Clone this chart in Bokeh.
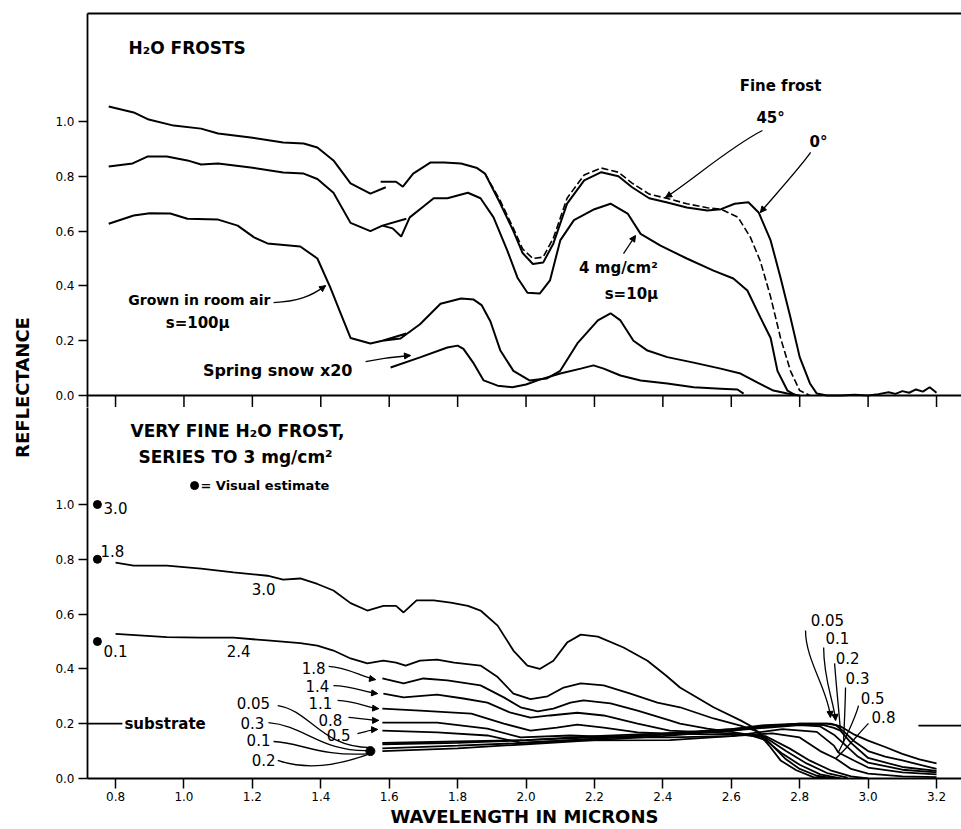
import math
from bokeh.plotting import figure
from bokeh.models import (Range1d, LinearAxis, FixedTicker, PrintfTickFormatter,
                          Arrow, NormalHead, Span)
from bokeh.layouts import row, column
from bokeh.embed import file_html
from bokeh.resources import INLINE
from bokeh.core.properties import value

NaN = float("nan")
FONT = "DejaVu Sans"

# ---------------- axes ----------------
X_TICKS = [0.8, 1.0, 1.2, 1.4, 1.6, 1.8, 2.0, 2.2, 2.4, 2.6, 2.8, 3.0, 3.2]
Y_TICKS = [0.0, 0.2, 0.4, 0.6, 0.8, 1.0]
X_MIN, X_MAX = 0.718, 3.273

# ---------------- top panel: H2O frosts ----------------
fine0_x = [0.78, 0.853, 0.897, 0.97, 1.05, 1.10, 1.195, 1.29, 1.35, 1.39, 1.437, 1.487, 1.545, 1.59, NaN,
           1.575, 1.62, 1.64, 1.67, 1.72, 1.76, 1.81, 1.857, 1.88, 1.925, 1.963, 1.99, 2.02, 2.05, 2.08,
           2.12, 2.17, 2.22, 2.27, 2.31, 2.36, 2.41, 2.47, 2.53, 2.57, 2.61, 2.65, 2.68, 2.715, 2.744,
           2.773, 2.80, 2.83, 2.85, 2.88, 2.92, 2.96, 3.00, 3.03, 3.06, 3.08, 3.10, 3.12, 3.14, 3.16,
           3.18, 3.20]
fine0_y = [1.055, 1.033, 1.007, 0.985, 0.974, 0.956, 0.942, 0.923, 0.92, 0.905, 0.858, 0.774, 0.737, 0.76, NaN,
           0.78, 0.78, 0.762, 0.81, 0.85, 0.85, 0.847, 0.83, 0.81, 0.70, 0.60, 0.52, 0.48, 0.485, 0.555,
           0.70, 0.785, 0.815, 0.80, 0.76, 0.72, 0.705, 0.686, 0.675, 0.68, 0.70, 0.705, 0.668, 0.566, 0.43,
           0.285, 0.14, 0.044, 0.007, 0.0, 0.0, 0.003, 0.0, 0.005, 0.012, 0.006, 0.016, 0.01, 0.022, 0.014,
           0.03, 0.01]

fine45_x = [1.88, 1.925, 1.963, 1.99, 2.02, 2.05, 2.08, 2.12, 2.17, 2.22, 2.27, 2.31, 2.36, 2.41, 2.47,
            2.53, 2.57, 2.62, 2.656, 2.685, 2.715, 2.744, 2.773, 2.80, 2.83]
fine45_y = [0.81, 0.71, 0.61, 0.535, 0.50, 0.505, 0.575, 0.72, 0.805, 0.83, 0.815, 0.775, 0.735, 0.72, 0.70,
            0.685, 0.68, 0.65, 0.577, 0.49, 0.36, 0.21, 0.09, 0.018, 0.0]

frost4mg_x = [0.78, 0.85, 0.893, 0.95, 1.01, 1.05, 1.10, 1.195, 1.29, 1.35, 1.39, 1.437, 1.487, 1.545, 1.58,
              1.65, NaN, 1.58, 1.61, 1.635, 1.66, 1.70, 1.73, 1.77, 1.83, 1.867, 1.905, 1.945, 1.975, 2.004,
              2.04, 2.07, 2.10, 2.14, 2.20, 2.247, 2.297, 2.335, 2.393, 2.47, 2.548, 2.606, 2.647, 2.685,
              2.715, 2.735, 2.764, 2.79]
frost4mg_y = [0.836, 0.847, 0.872, 0.872, 0.858, 0.843, 0.847, 0.832, 0.814, 0.81, 0.79, 0.74, 0.63, 0.60, 0.62,
              0.645, NaN, 0.62, 0.61, 0.58, 0.65, 0.69, 0.72, 0.72, 0.74, 0.72, 0.65, 0.53, 0.43, 0.375,
              0.372, 0.42, 0.566, 0.64, 0.68, 0.70, 0.664, 0.59, 0.547, 0.50, 0.456, 0.427, 0.383, 0.285,
              0.21, 0.09, 0.018, 0.0]

room_x = [0.78, 0.853, 0.90, 0.96, 1.01, 1.10, 1.157, 1.205, 1.244, 1.34, 1.39, 1.428, 1.458, 1.487, 1.545,
          1.58, 1.65, NaN, 1.58, 1.633, 1.69, 1.75, 1.81, 1.847, 1.87, 1.896, 1.925, 1.963, 2.01, 2.06,
          2.10, 2.15, 2.21, 2.247, 2.276, 2.314, 2.355, 2.413, 2.49, 2.569, 2.627, 2.677, 2.723, 2.764, 2.80]
room_y = [0.627, 0.657, 0.665, 0.664, 0.645, 0.642, 0.62, 0.577, 0.555, 0.544, 0.50, 0.394, 0.30, 0.21, 0.19,
          0.20, 0.226, NaN, 0.20, 0.208, 0.26, 0.335, 0.354, 0.35, 0.33, 0.27, 0.164, 0.09, 0.055, 0.062,
          0.09, 0.19, 0.274, 0.30, 0.274, 0.20, 0.164, 0.14, 0.12, 0.098, 0.08, 0.047, 0.018, 0.007, 0.0]

snow_x = [1.604, 1.69, 1.77, 1.80, 1.817, 1.847, 1.876, 1.917, 1.96, 2.00, 2.04, 2.10, 2.16, 2.197, 2.227,
          2.276, 2.335, 2.413, 2.49, 2.569, 2.618, 2.636]
snow_y = [0.102, 0.139, 0.175, 0.182, 0.17, 0.117, 0.055, 0.036, 0.03, 0.04, 0.058, 0.08, 0.098, 0.11, 0.098,
          0.073, 0.055, 0.044, 0.03, 0.025, 0.022, 0.007]

# ---------------- bottom panel: very fine frost series ----------------
s30_x = [0.80, 0.853, 0.95, 1.05, 1.145, 1.244, 1.29, 1.34, 1.39, 1.437, 1.487, 1.536, 1.583, 1.62, 1.642,
         1.68, 1.73, 1.78, 1.83, 1.867, 1.917, 1.963, 2.004, 2.04, 2.08, 2.12, 2.16, 2.21, 2.285, 2.355,
         2.41, 2.45, 2.548, 2.627, 2.665, 2.715, 2.744, 2.79, 2.84, 2.90]
s30_y = [0.788, 0.777, 0.777, 0.766, 0.752, 0.74, 0.726, 0.73, 0.71, 0.686, 0.64, 0.613, 0.63, 0.63, 0.606,
         0.65, 0.65, 0.642, 0.63, 0.613, 0.558, 0.467, 0.412, 0.40, 0.43, 0.496, 0.525, 0.518, 0.478, 0.43,
         0.375, 0.332, 0.26, 0.212, 0.186, 0.113, 0.066, 0.03, 0.005, 0.0]

s24_x = [0.80, 0.95, 1.05, 1.145, 1.244, 1.34, 1.39, 1.437, 1.487, 1.536, 1.583, 1.62, 1.648, 1.69, 1.74,
         1.79, 1.867, 1.917, 1.963, 2.013, 2.063, 2.11, 2.16, 2.227, 2.305, 2.384, 2.45, 2.548, 2.627, 2.68,
         2.72, 2.76, 2.80, 2.85, 2.90]
s24_y = [0.528, 0.516, 0.514, 0.514, 0.504, 0.494, 0.485, 0.467, 0.438, 0.42, 0.43, 0.423, 0.412, 0.43, 0.434,
         0.423, 0.412, 0.37, 0.31, 0.29, 0.30, 0.332, 0.347, 0.34, 0.31, 0.277, 0.26, 0.219, 0.193, 0.17,
         0.12, 0.07, 0.035, 0.01, 0.0]

s18_x = [1.58, 1.642, 1.70, 1.77, 1.867, 1.935, 1.984, 2.034, 2.08, 2.13, 2.168, 2.247, 2.326, 2.42, 2.45,
         2.53, 2.60, 2.65, 2.70, 2.75, 2.80, 2.86, 2.92]
s18_y = [0.365, 0.347, 0.365, 0.358, 0.34, 0.296, 0.26, 0.245, 0.255, 0.277, 0.285, 0.274, 0.248, 0.212, 0.20,
         0.182, 0.17, 0.16, 0.14, 0.09, 0.05, 0.015, 0.0]

s14_x = [1.583, 1.642, 1.74, 1.817, 1.887, 1.955, 2.013, 2.07, 2.15, 2.227, 2.326, 2.42, 2.50, 2.60, 2.70,
         2.76, 2.82, 2.88, 2.94]
s14_y = [0.31, 0.296, 0.306, 0.292, 0.277, 0.24, 0.222, 0.23, 0.24, 0.23, 0.20, 0.175, 0.17, 0.165, 0.15,
         0.10, 0.055, 0.02, 0.003]

s11_x = [1.58, 1.69, 1.84, 1.935, 2.013, 2.09, 2.15, 2.227, 2.326, 2.42, 2.50, 2.60, 2.70, 2.77, 2.83,
         2.89, 2.95, 3.00]
s11_y = [0.255, 0.248, 0.237, 0.20, 0.175, 0.186, 0.197, 0.186, 0.168, 0.164, 0.162, 0.16, 0.155, 0.11, 0.065,
         0.03, 0.008, 0.0]

s08_x = [1.58, 1.74, 1.887, 1.984, 2.13, 2.276, 2.42, 2.60, 2.72, 2.80, 2.86, 2.905, 2.95, 3.00, 3.10, 3.20]
s08_y = [0.204, 0.204, 0.182, 0.15, 0.157, 0.15, 0.15, 0.155, 0.165, 0.15, 0.10, 0.073, 0.035, 0.018, 0.008,
         0.005]

s05_x = [1.58, 1.74, 1.887, 1.984, 2.13, 2.42, 2.60, 2.75, 2.85, 2.90, 2.913, 2.96, 3.00, 3.10, 3.20]
s05_y = [0.175, 0.168, 0.157, 0.131, 0.139, 0.14, 0.155, 0.18, 0.17, 0.12, 0.095, 0.065, 0.04, 0.022, 0.015]

s03_x = [1.58, 1.80, 2.00, 2.20, 2.40, 2.60, 2.70, 2.80, 2.86, 2.90, 2.928, 2.97, 3.00, 3.10, 3.20]
s03_y = [0.13, 0.135, 0.14, 0.15, 0.16, 0.175, 0.185, 0.195, 0.19, 0.16, 0.128, 0.08, 0.058, 0.032, 0.022]

s02_x = [1.58, 1.80, 2.00, 2.20, 2.40, 2.60, 2.70, 2.80, 2.87, 2.90, 2.919, 2.95, 3.00, 3.10, 3.20]
s02_y = [0.10, 0.11, 0.125, 0.14, 0.155, 0.175, 0.19, 0.198, 0.195, 0.185, 0.175, 0.13, 0.075, 0.042, 0.028]

s01_x = [1.58, 1.80, 2.00, 2.20, 2.40, 2.60, 2.70, 2.80, 2.88, 2.905, 2.93, 2.96, 3.00, 3.05, 3.10, 3.20]
s01_y = [0.11, 0.12, 0.13, 0.145, 0.16, 0.18, 0.19, 0.20, 0.20, 0.195, 0.17, 0.135, 0.10, 0.08, 0.066, 0.035]

s005_x = [1.58, 1.80, 2.00, 2.20, 2.40, 2.60, 2.70, 2.80, 2.89, 2.92, 2.96, 3.00, 3.05, 3.10, 3.15, 3.20]
s005_y = [0.125, 0.13, 0.14, 0.155, 0.165, 0.18, 0.195, 0.20, 0.20, 0.19, 0.16, 0.138, 0.115, 0.09, 0.07, 0.055]

bottom_series = [(s30_x, s30_y), (s24_x, s24_y), (s18_x, s18_y), (s14_x, s14_y), (s11_x, s11_y),
                 (s08_x, s08_y), (s05_x, s05_y), (s03_x, s03_y), (s02_x, s02_y), (s01_x, s01_y),
                 (s005_x, s005_y)]

# visual estimates (thickness label, reflectance)
visual_x = [0.747, 0.747, 0.747]
visual_y = [1.0, 0.8, 0.5]
visual_labels = ["3.0", "1.8", "0.1"]
visual_label_x = [0.765, 0.756, 0.765]
visual_label_y = [0.989, 0.83, 0.467]

# substrate level marks
substrate_left_x = [0.718, 0.82]
substrate_left_y = [0.20, 0.20]
substrate_right_x = [3.147, 3.273]
substrate_right_y = [0.193, 0.193]

# ---------------- layout sizes (pixels) ----------------
LABEL_W = 48
PANEL_W = 913
BORDER_LEFT = 39
PX_PER_Y = 274.0
PX_PER_X = (PANEL_W - BORDER_LEFT) / (X_MAX - X_MIN)
MID_TICK_PX = 12           # wavelength ticks hanging below the shared border
TOP_BORDER = 13
TOP_FRAME_H = 394          # 382 px of panel + the 12 px tick strip below it
BOT_FRAME_H = 371
BOT_BORDER = 51
TOP_H = TOP_BORDER + TOP_FRAME_H
BOT_H = BOT_FRAME_H + BOT_BORDER
TOTAL_H = TOP_H + BOT_H
Y_MIN_TOP = -MID_TICK_PX / PX_PER_Y
Y_MAX_TOP = (TOP_FRAME_H - MID_TICK_PX) / PX_PER_Y
Y_MAX_BOT = BOT_FRAME_H / PX_PER_Y


def style_left_axis(p, ticks):
    ax = p.yaxis[0]
    ax.ticker = FixedTicker(ticks=ticks)
    ax.formatter = PrintfTickFormatter(format="%.1f")
    ax.major_tick_out = 9
    ax.major_tick_in = 0
    ax.minor_tick_line_color = None
    ax.major_tick_line_width = 1.5
    ax.axis_line_width = 1.8
    ax.major_label_standoff = 4
    ax.major_label_text_font = FONT
    ax.major_label_text_font_size = "12px"
    ax.major_label_text_color = "black"


def make_panel(height, ymin, ymax, border_top, border_bottom, xloc):
    p = figure(width=PANEL_W, height=height, x_range=Range1d(X_MIN, X_MAX), y_range=Range1d(ymin, ymax),
               output_backend="svg", toolbar_location=None, x_axis_location=xloc,
               y_axis_location="left", min_border_left=BORDER_LEFT, min_border_right=0,
               min_border_top=border_top, min_border_bottom=border_bottom)
    p.outline_line_color = None
    p.grid.visible = False
    p.background_fill_color = "white"
    style_left_axis(p, Y_TICKS)
    return p


def txt(p, xs, ys, texts, size="15px", style="normal", align="center", angle=0.0):
    p.text(x=xs, y=ys, text=texts, text_font=value(FONT), text_font_size=size,
           text_font_style=style, text_align=align, text_baseline="middle",
           text_color="black", angle=angle)


def head_arrow(p, xs, ys, xe, ye, size=7, show_line=True):
    p.add_layout(Arrow(end=NormalHead(size=size, fill_color="black", line_color="black", line_width=1),
                       x_start=xs, y_start=ys, x_end=xe, y_end=ye, line_width=1.3,
                       line_color="black", line_alpha=1.0 if show_line else 0.0))


def curved_leader(p, x0, y0, cx0, cy0, cx1, cy1, x1, y1, head=True):
    p.bezier(x0=[x0], y0=[y0], x1=[x1], y1=[y1], cx0=[cx0], cy0=[cy0], cx1=[cx1], cy1=[cy1],
             line_color="black", line_width=1.3)
    if head:
        head_arrow(p, cx1, cy1, x1, y1, size=6, show_line=False)


# ================= TOP PANEL =================
top = make_panel(TOP_H, Y_MIN_TOP, Y_MAX_TOP, TOP_BORDER, 0, None)
top.add_layout(LinearAxis(ticker=FixedTicker(ticks=[]), major_tick_in=0, major_tick_out=0,
                          minor_tick_line_color=None, axis_line_width=1.8, major_label_standoff=0), "above")
# shared border between the two panels (reflectance 0 of the upper panel)
top.add_layout(Span(location=0.0, dimension="width", line_color="black", line_width=1.8))
n_t = len(X_TICKS)
top.segment(x0=X_TICKS, y0=[0.0] * n_t, x1=X_TICKS, y1=[Y_MIN_TOP] * n_t,
            line_color="black", line_width=1.5)

LW = 2.0
top.line(fine0_x, fine0_y, line_color="black", line_width=LW)
top.line(fine45_x, fine45_y, line_color="black", line_width=1.6, line_dash="7 3")
top.line(frost4mg_x, frost4mg_y, line_color="black", line_width=LW)
top.line(room_x, room_y, line_color="black", line_width=LW)
top.line(snow_x, snow_y, line_color="black", line_width=LW)

txt(top, [0.838], [1.270], ["H₂O FROSTS"], size="17px", style="bold", align="left")
txt(top, [2.744, 2.715, 2.855], [1.131, 1.011, 0.927], ["Fine frost", "45°", "0°"], size="15px", style="bold")
txt(top, [2.270, 2.308], [0.467, 0.372], ["4 mg/cm²", "s=10μ"], size="15px", style="bold")
txt(top, [1.253], [0.347], ["Grown in room air"], size="14px", style="bold", align="right")
txt(top, [1.040], [0.263], ["s=100μ"], size="15px", style="bold")
txt(top, [1.274], [0.091], ["Spring snow x20"], size="16px", style="bold")

curved_leader(top, 2.691, 0.967, 2.60, 0.91, 2.48, 0.78, 2.408, 0.723)
curved_leader(top, 2.832, 0.887, 2.80, 0.83, 2.72, 0.72, 2.685, 0.668)
head_arrow(top, 2.285, 0.518, 2.320, 0.584, size=6)
curved_leader(top, 1.262, 0.339, 1.33, 0.343, 1.37, 0.36, 1.414, 0.401)
curved_leader(top, 1.531, 0.124, 1.58, 0.136, 1.62, 0.142, 1.662, 0.146)

# ================= BOTTOM PANEL =================
bot = make_panel(BOT_H, 0.0, Y_MAX_BOT, 0, BOT_BORDER, "below")
bx = bot.xaxis[0]
bx.ticker = FixedTicker(ticks=X_TICKS)
bx.formatter = PrintfTickFormatter(format="%.1f")
bx.major_tick_out = 10
bx.major_tick_in = 0
bx.minor_tick_line_color = None
bx.major_tick_line_width = 1.5
bx.axis_line_width = 1.8
bx.major_label_standoff = 3
bx.major_label_text_font = FONT
bx.major_label_text_font_size = "12px"
bx.major_label_text_color = "black"
bx.axis_label = "WAVELENGTH IN MICRONS"
bx.axis_label_text_font = FONT
bx.axis_label_text_font_size = "18px"
bx.axis_label_text_font_style = "bold"
bx.axis_label_text_color = "black"
bx.axis_label_standoff = 2

for sx, sy in bottom_series:
    bot.line(sx, sy, line_color="black", line_width=1.8)

bot.line(substrate_left_x, substrate_left_y, line_color="black", line_width=1.8)
bot.line(substrate_right_x, substrate_right_y, line_color="black", line_width=1.8)
txt(bot, [0.826], [0.20], ["substrate"], size="15px", style="bold", align="left")

bot.scatter(visual_x, visual_y, size=8, marker="circle", fill_color="black", line_color="black")
txt(bot, visual_label_x, visual_label_y, visual_labels, size="15px", align="left")

txt(bot, [0.844, 0.867], [1.270, 1.172], ["VERY FINE H₂O FROST,", "SERIES TO 3 mg/cm²"],
    size="17px", style="bold", align="left")
bot.scatter([1.031], [1.069], size=8, marker="circle", fill_color="black", line_color="black")
txt(bot, [1.048], [1.069], ["= Visual estimate"], size="13px", style="bold", align="left")

txt(bot, [1.233, 1.160], [0.690, 0.467], ["3.0", "2.4"], size="15px")

# left-hand leaders (thickness labels -> curves at 1.55 um)
left_labels = ["1.8", "1.4", "1.1", "0.8", "0.5"]
left_label_x = [1.379, 1.390, 1.399, 1.428, 1.452]
left_label_y = [0.405, 0.339, 0.277, 0.212, 0.157]
txt(bot, left_label_x, left_label_y, left_labels, size="15px")
left_leaders = [
    (1.423, 0.409, 1.48, 0.405, 1.52, 0.37, 1.560, 0.361),
    (1.437, 0.339, 1.49, 0.338, 1.53, 0.315, 1.566, 0.310),
    (1.449, 0.285, 1.50, 0.283, 1.54, 0.258, 1.569, 0.255),
    (1.481, 0.223, 1.52, 0.220, 1.545, 0.212, 1.569, 0.212),
    (1.507, 0.164, 1.53, 0.170, 1.545, 0.178, 1.566, 0.179),
]
for lx in left_leaders:
    curved_leader(bot, *lx)

thin_labels = ["0.05", "0.3", "0.1", "0.2"]
thin_label_x = [1.203, 1.200, 1.218, 1.233]
thin_label_y = [0.274, 0.204, 0.139, 0.069]
txt(bot, thin_label_x, thin_label_y, thin_labels, size="15px")
thin_leaders = [
    (1.274, 0.266, 1.37, 0.248, 1.40, 0.113, 1.545, 0.113),
    (1.247, 0.204, 1.355, 0.193, 1.40, 0.095, 1.545, 0.102),
    (1.262, 0.135, 1.341, 0.131, 1.40, 0.077, 1.545, 0.091),
    (1.274, 0.066, 1.36, 0.03, 1.443, 0.045, 1.545, 0.091),
]
for lx in thin_leaders:
    curved_leader(bot, *lx, head=False)
bot.scatter([1.545], [0.10], size=9, marker="circle", fill_color="black", line_color="black")

# right-hand leaders near the 3 um edge
right_labels = ["0.05", "0.1", "0.2", "0.3", "0.5", "0.8"]
right_label_x = [2.881, 2.910, 2.940, 2.969, 3.013, 3.045]
right_label_y = [0.577, 0.511, 0.438, 0.365, 0.292, 0.223]
txt(bot, right_label_x, right_label_y, right_labels, size="15px")
right_leaders = [
    (2.817, 0.540, 2.817, 0.431, 2.884, 0.321, 2.890, 0.223),
    (2.870, 0.478, 2.870, 0.358, 2.899, 0.285, 2.905, 0.212),
    (2.902, 0.420, 2.908, 0.321, 2.916, 0.230, 2.919, 0.175),
    (2.934, 0.332, 2.933, 0.26, 2.930, 0.19, 2.928, 0.128),
    (2.972, 0.266, 2.96, 0.21, 2.93, 0.14, 2.913, 0.095),
    (3.001, 0.201, 2.97, 0.16, 2.93, 0.10, 2.905, 0.073),
]
for i, lx in enumerate(right_leaders):
    curved_leader(bot, *lx, head=(i < 2))

# ================= Y LABEL =================
lab = figure(width=LABEL_W, height=TOTAL_H, x_range=Range1d(0, LABEL_W), y_range=Range1d(0, TOTAL_H),
             output_backend="svg", toolbar_location=None, x_axis_location=None, y_axis_location=None,
             min_border=0)
lab.outline_line_color = None
lab.grid.visible = False
YLABEL_X = 22
YLABEL_Y = TOTAL_H - 387
txt(lab, [YLABEL_X], [YLABEL_Y], ["REFLECTANCE"], size="18px", style="bold", angle=math.pi / 2)

layout = row(lab, column(top, bot))
open("out.html", "w").write(file_html(layout, INLINE))
